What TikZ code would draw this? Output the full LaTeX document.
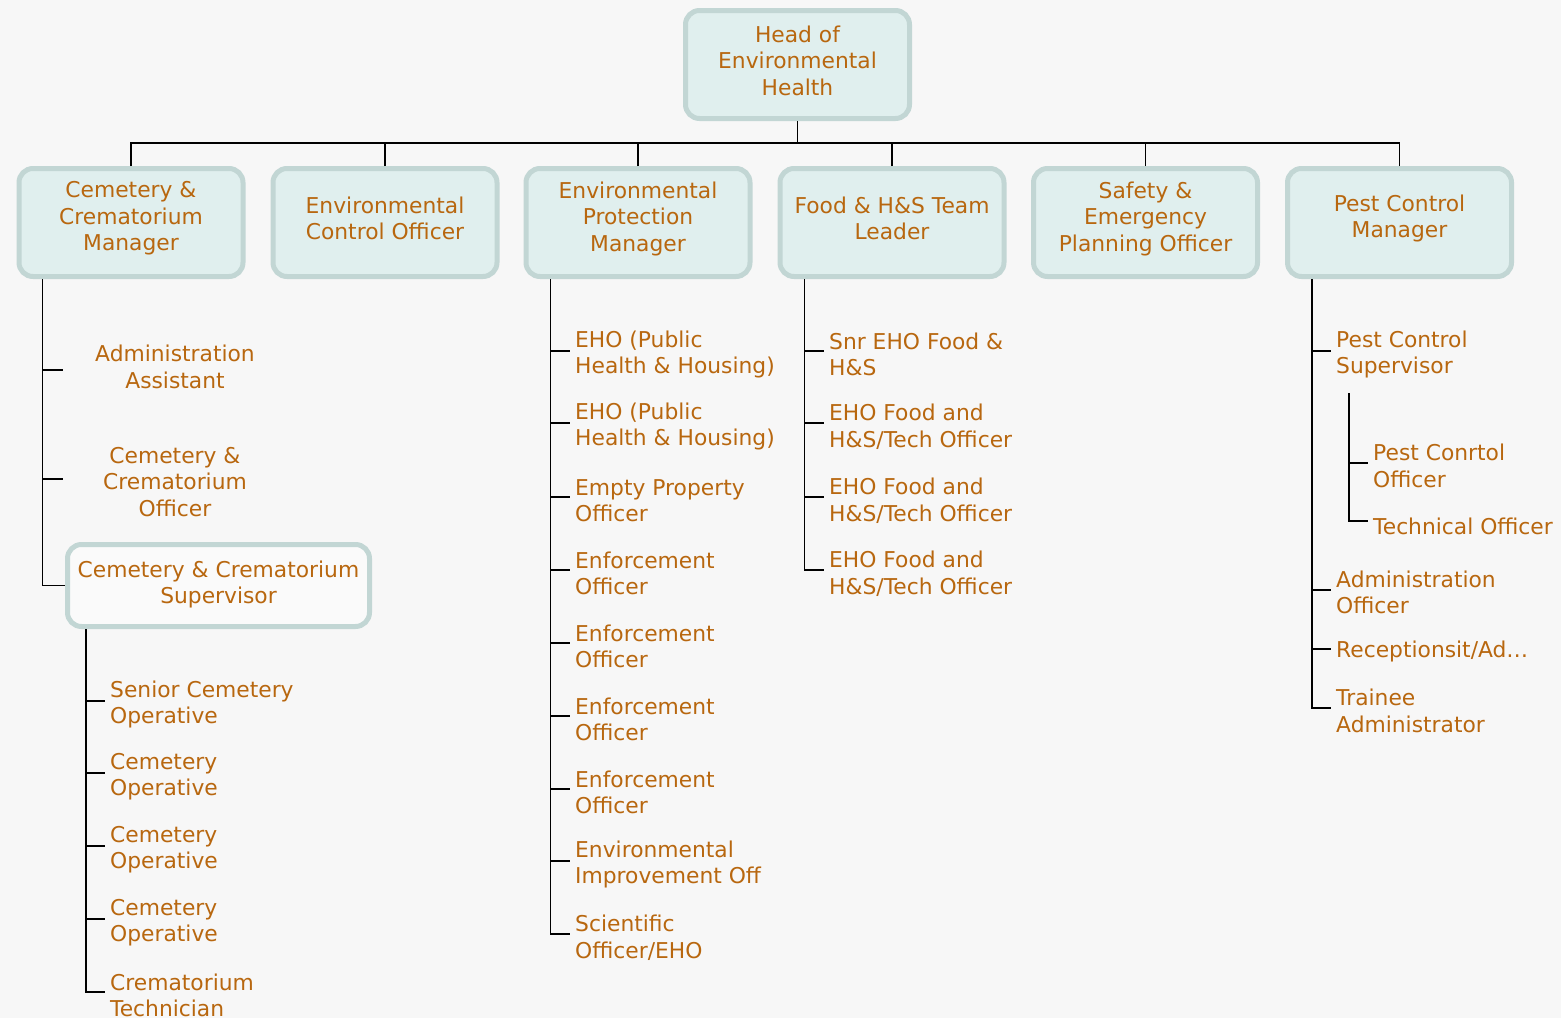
\documentclass[tikz,border=0pt]{standalone}
\usepackage{fontspec}
\setmainfont{DejaVu Sans}
\definecolor{bgc}{HTML}{F7F7F7}
\definecolor{txtc}{HTML}{B8670F}
\definecolor{boxfill}{HTML}{E0EFEE}
\definecolor{boxline}{HTML}{C2D6D4}
\definecolor{supfill}{HTML}{FAFAFA}
\tikzset{
  orgbox/.style={draw=boxline, line width=5pt, fill=boxfill, rounded corners=14pt,
    minimum width=224pt, minimum height=108pt, inner sep=0pt},
  orgtext/.style={inner sep=0pt, text=txtc, font=\fontsize{21.8}{26.5}\selectfont},
  conn/.style={line width=1.5pt, black},
}
\newcommand\orgbx[4]{%
  \node[orgbox,#4] (#1) at (#2) {};
  \node[orgtext, align=center] (#1t) at ([yshift=4pt]#1.center) {#3};
}
\newcommand\orgkid[6]{%
  \node[orgtext, anchor=west, align=left] (#1) at (#3,{#4+#5}) {#6};
  \draw[conn] (#2) |- ([xshift=-5pt,yshift=#5pt]#1.west);
}
\begin{document}
\begin{tikzpicture}[x=1pt,y=-1pt]
\fill[bgc] (0,0) rectangle (1561,1018);
\useasboundingbox (0,0) rectangle (1561,1018);

% top
\orgbx{head}{797.5,64.5}{Head of\\Environmental\\Health}{}
\coordinate (bus) at (797.5,143);

\orgbx{b1}{131,222.5}{Cemetery \&\\Crematorium\\Manager}{}
\orgbx{b2}{385,222.5}{Environmental\\Control Officer}{}
\orgbx{b3}{638,222.5}{Environmental\\Protection\\Manager}{}
\orgbx{b4}{892,222.5}{Food \& H\&S Team\\Leader}{}
\orgbx{b5}{1145.5,222.5}{Safety \&\\Emergency\\Planning Officer}{}
\orgbx{b6}{1399.5,222.5}{Pest Control\\Manager}{}

\draw[conn] (head.south) -- (bus);
\foreach \b in {b1,b2,b3,b4,b5,b6} \draw[conn] (\b.north) |- (bus);

% cemetery manager branch
\coordinate (v1) at ([xshift=26pt]b1.south west);
\node[orgtext, align=center] (aa) at (175,367) {Administration\\Assistant};
\coordinate (t1a) at (63,370);
\draw[conn] (v1) |- (t1a);
\node[orgtext, align=center] (cco) at (175,482) {Cemetery \&\\Crematorium\\Officer};
\coordinate (t1b) at (63,479);
\draw[conn] (v1) |- (t1b);
\node[orgbox, fill=supfill, minimum width=302pt, minimum height=82pt] (sup) at (218.5,585.5) {};
\node[orgtext, align=center] (supt) at ([yshift=1pt]sup.center) {Cemetery \& Crematorium\\Supervisor};
\draw[conn] (v1) |- (sup.west);

% supervisor children
\coordinate (vs) at ([xshift=21pt]sup.south west);
\orgkid{s1}{vs}{110}{701}{3.5}{Senior Cemetery\\Operative}
\orgkid{s2}{vs}{110}{773}{3.5}{Cemetery\\Operative}
\orgkid{s3}{vs}{110}{846}{3.5}{Cemetery\\Operative}
\orgkid{s4}{vs}{110}{919}{3.5}{Cemetery\\Operative}
\orgkid{s5}{vs}{110}{992}{3.5}{Crematorium\\Technician}

% environmental protection manager children
\coordinate (v3) at ([xshift=27pt]b3.south west);
\orgkid{e1}{v3}{575}{351}{3.5}{EHO (Public\\Health \& Housing)}
\orgkid{e2}{v3}{575}{423}{3.5}{EHO (Public\\Health \& Housing)}
\orgkid{e3}{v3}{575}{497}{3.5}{Empty Property\\Officer}
\orgkid{e4}{v3}{575}{570}{3.5}{Enforcement\\Officer}
\orgkid{e5}{v3}{575}{643}{3.5}{Enforcement\\Officer}
\orgkid{e6}{v3}{575}{716}{3.5}{Enforcement\\Officer}
\orgkid{e7}{v3}{575}{789}{3.5}{Enforcement\\Officer}
\orgkid{e8}{v3}{575}{861}{3.5}{Environmental\\Improvement Off}
\orgkid{e9}{v3}{575}{934}{3.5}{Scientific\\Officer/EHO}

% food children
\coordinate (v4) at ([xshift=27pt]b4.south west);
\orgkid{f1}{v4}{829}{351}{3.5}{Snr EHO Food \&\\H\&S}
\orgkid{f2}{v4}{829}{423}{3.5}{EHO Food and\\H\&S/Tech Officer}
\orgkid{f3}{v4}{829}{497}{3.5}{EHO Food and\\H\&S/Tech Officer}
\orgkid{f4}{v4}{829}{570}{3.5}{EHO Food and\\H\&S/Tech Officer}

% pest control children
\coordinate (v6) at ([xshift=27pt]b6.south west);
\orgkid{p1}{v6}{1336}{351}{3.5}{Pest Control\\Supervisor}
\orgkid{p2}{v6}{1336}{590}{2.5}{Administration\\Officer}
\orgkid{p3}{v6}{1336}{649}{2}{Receptionsit/Ad…}
\orgkid{p4}{v6}{1336}{708}{3}{Trainee\\Administrator}
\coordinate (vp) at (1349,393);
\orgkid{q1}{vp}{1373}{463}{3}{Pest Conrtol\\Officer}
\orgkid{q2}{vp}{1373}{521}{5}{Technical Officer}
\end{tikzpicture}
\end{document}
